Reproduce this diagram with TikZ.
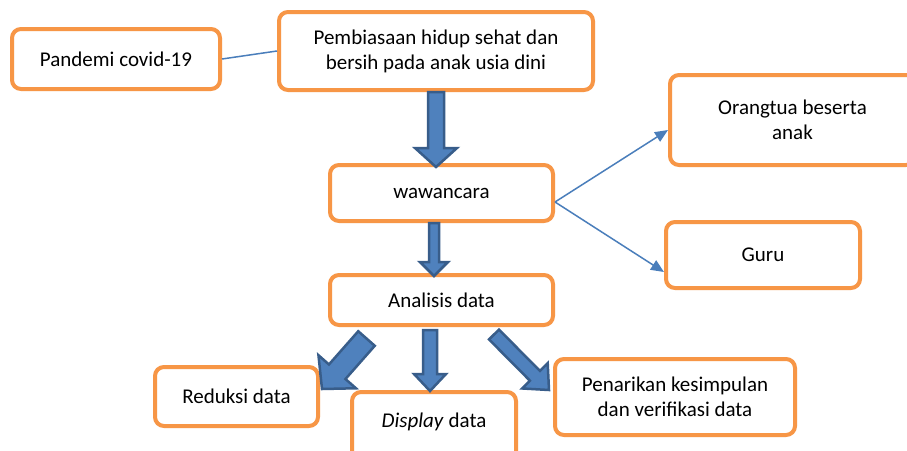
\documentclass[tikz,border=0pt]{standalone}
\usepackage{fontspec}
\setmainfont{Carlito}
\usetikzlibrary{calc,arrows.meta}

\definecolor{oranye}{HTML}{F79646}
\definecolor{biru}{HTML}{4F81BD}
\definecolor{birutua}{HTML}{385D8A}
\definecolor{garis}{HTML}{4A7EBB}

% panah blok: pangkal, ujung, setengah batang, setengah kepala, panjang kepala
\newcommand{\panahblok}[5]{%
 \coordinate (pkl) at (#1);
 \coordinate (ujg) at (#2);
 \coordinate (leher) at ($(ujg)!#5!(pkl)$);
 \draw[blok] ($(pkl)!#3!90:(ujg)$) -- ($(leher)!#3!-90:(pkl)$) -- ($(leher)!#4!-90:(pkl)$) -- (ujg)
  -- ($(leher)!#4!90:(pkl)$) -- ($(leher)!#3!90:(pkl)$) -- ($(pkl)!#3!-90:(ujg)$) -- cycle;
}

\begin{document}
\begin{tikzpicture}[x=1pt, y=-1pt]
 \tikzstyle{kotak}=[draw=oranye, line width=4pt, rounded corners=9pt, fill=white, inner sep=0pt, align=center, font=\fontsize{21}{25}\selectfont]
 \tikzstyle{blok}=[fill=biru, draw=birutua, line width=2.5pt]
 \tikzstyle{tipis}=[draw=garis, line width=1.5pt]
 \path[use as bounding box, fill=white] (0,0) rectangle (907,450);
 %
 \node[kotak, minimum width=208pt, minimum height=60pt] (pandemi) at (116, 59) {Pandemi covid-19};
 \node[kotak, minimum width=314pt, minimum height=78pt] (pembiasaan) at (436, 51) {Pembiasaan hidup sehat dan\\bersih pada anak usia dini};
 \node[kotak, minimum width=223pt, minimum height=56pt] (wawancara) at (441.5, 193) {wawancara};
 \node[kotak, minimum width=245pt, minimum height=90pt] (orangtua) at (792.5, 120) {Orangtua beserta\\anak};
 \node[kotak, minimum width=194pt, minimum height=66pt] (guru) at (763, 255) {Guru};
 \node[kotak, minimum width=223pt, minimum height=50pt] (analisis) at (441.5, 300) {Analisis data};
 %
 \node[kotak, minimum width=163pt, minimum height=59pt] (reduksi) at (236.5, 396.5) {Reduksi data};
 \node[kotak, minimum width=164pt, text height=35pt, text depth=45pt, anchor=base] (display) at (434, 427) {\textit{Display} data};
 \node[kotak, minimum width=240pt, minimum height=76pt] (penarikan) at (675, 397) {Penarikan kesimpulan\\dan verifikasi data};
 %%
 \draw[tipis] (pandemi.east) -- (pembiasaan.west);
 \draw[tipis, -{Triangle[length=13pt, width=11pt]}] ($(wawancara.east)+(0,9)$) -- ($(orangtua.west)+(0,10)$);
 \draw[tipis, -{Triangle[length=13pt, width=11pt]}] ($(wawancara.east)+(0,9)$) -- ($(guru.west)+(0,17)$);
 %
 \panahblok{pembiasaan.south}{$(pembiasaan.south |- wawancara.north)+(0,4)$}{8pt}{21pt}{19pt}
 \panahblok{$(wawancara.south)+(-7.5,0)$}{$(wawancara.south |- analisis.north)+(-7.5,3)$}{5pt}{14pt}{14pt}
 \panahblok{$(analisis.south)+(-11.5,3)$}{$(display.north)+(-4,1)$}{7pt}{16pt}{17pt}
 \panahblok{$(analisis.south)+(-75,11.5)$}{$(reduksi.north east)+(2,24)$}{11pt}{25pt}{23pt}
 \panahblok{$(analisis.south)+(52.5,7.5)$}{$(penarikan.north west)+(-4,33)$}{7pt}{18pt}{20pt}
\end{tikzpicture}
\end{document}
